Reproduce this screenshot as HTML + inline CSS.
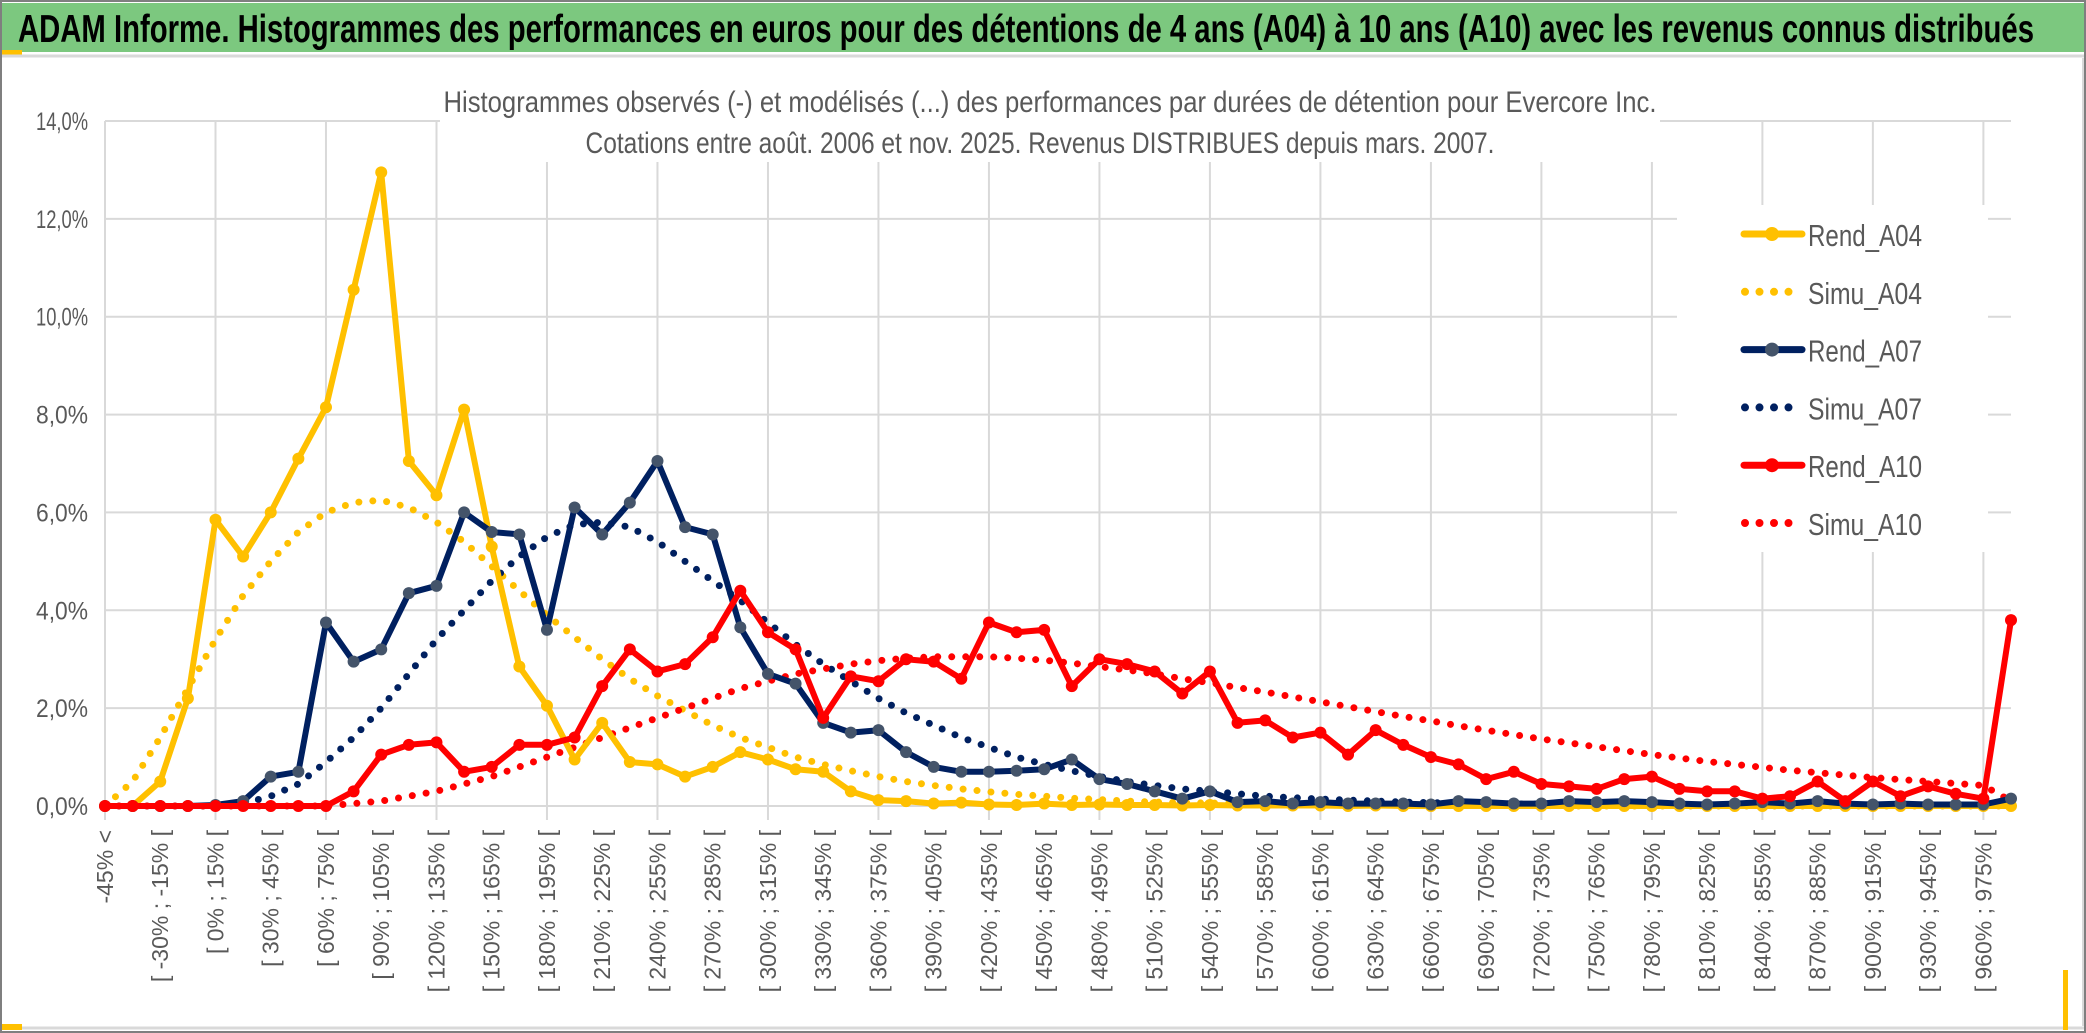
<!DOCTYPE html>
<html><head><meta charset="utf-8"><style>
html,body{margin:0;padding:0;background:#fff;}
svg{display:block;font-family:"Liberation Sans",sans-serif;}
</style></head><body>
<svg id="chart" width="2086" height="1033" viewBox="0 0 2086 1033" xmlns="http://www.w3.org/2000/svg">
<rect x="0" y="0" width="2086" height="1033" fill="#fff"/>
<rect x="1" y="1" width="2084" height="1031" fill="none" stroke="#7f7f7f" stroke-width="2"/>
<rect x="2" y="3" width="2082" height="49" fill="#7cc87f"/>
<rect x="2" y="50" width="20" height="5" fill="#ffc000"/>
<line x1="2" y1="56" x2="2084" y2="56" stroke="#d9d9d9" stroke-width="3"/>
<text x="18" y="42" font-size="39" font-weight="bold" fill="#000" textLength="2016" lengthAdjust="spacingAndGlyphs">ADAM Informe. Histogrammes des performances en euros pour des détentions de 4 ans (A04) à 10 ans (A10) avec les revenus connus distribués</text>
<line x1="2" y1="1028" x2="2084" y2="1028" stroke="#d9d9d9" stroke-width="3"/>
<rect x="2" y="1024" width="20" height="6" fill="#ffc000"/>
<rect x="2063" y="970" width="5" height="60" fill="#ffc000"/>
<line x1="2083" y1="58" x2="2083" y2="1026" stroke="#d9d9d9" stroke-width="2"/>
<g id="grid"></g>
<rect x="1677" y="205" width="311" height="347" fill="#fff"/>
<rect x="440" y="82" width="1220" height="80" fill="#fff"/>
<text x="1050" y="112" font-size="30" fill="#595959" text-anchor="middle" textLength="1213" lengthAdjust="spacingAndGlyphs">Histogrammes observés (-) et modélisés (...) des performances par durées de détention pour Evercore Inc.</text>
<text x="1040" y="153" font-size="30" fill="#595959" text-anchor="middle" textLength="909" lengthAdjust="spacingAndGlyphs">Cotations entre août. 2006 et nov. 2025. Revenus DISTRIBUES depuis mars. 2007.</text>
<g id="yaxis"></g>
<g id="xaxis"></g>
<g id="series"></g>
<g id="legend"></g>
</svg>
<script>
const NS="http://www.w3.org/2000/svg";
const yTicks=[0,2,4,6,8,10,12,14];
const yTickLabels=["0,0%","2,0%","4,0%","6,0%","8,0%","10,0%","12,0%","14,0%"];
const nCats=70;
const catLabels=[];
for(let k=0;k<nCats;k++){
  if(k===0) catLabels.push("-45% <");
  else if(k%2===0){const a=-45+15*(k-1);catLabels.push("[ "+a+"% ; "+(a+15)+"% [");}
  else catLabels.push("");
}
const rendA04=[0,0,0.5,2.2,5.85,5.1,6.0,7.1,8.15,10.55,12.95,7.05,6.35,8.1,5.3,2.85,2.05,0.95,1.7,0.9,0.85,0.6,0.8,1.1,0.95,0.75,0.7,0.3,0.12,0.1,0.05,0.07,0.03,0.02,0.05,0.02,0.03,0.02,0.02,0.01,0.02,0.01,0.01,0.01,0.01,0,0.01,0,0,0,0,0,0,0,0,0,0,0,0,0,0,0,0,0,0,0,0,0,0,0];
const simuA04=[0,0.5,1.4,2.4,3.4,4.3,5.0,5.6,6.0,6.2,6.25,6.1,5.8,5.4,4.9,4.4,3.9,3.45,3.0,2.6,2.25,1.95,1.65,1.4,1.2,1.0,0.85,0.72,0.6,0.5,0.42,0.35,0.29,0.24,0.2,0.16,0.13,0.1,0.08,0.07,0.06,0.05,0.04,0.03,0.03,0.02,0.02,0.02,0.01,0.01,0.01,0.01,0.01,0,0,0,0,0,0,0,0,0,0,0,0,0,0,0,0,0];
const rendA07=[0,0,0,0,0.02,0.1,0.6,0.7,3.75,2.95,3.2,4.35,4.5,6.0,5.6,5.55,3.6,6.1,5.55,6.2,7.05,5.7,5.55,3.65,2.7,2.5,1.7,1.5,1.55,1.1,0.8,0.7,0.7,0.72,0.75,0.95,0.55,0.45,0.3,0.15,0.3,0.08,0.1,0.05,0.08,0.05,0.05,0.05,0.03,0.1,0.08,0.05,0.05,0.1,0.08,0.1,0.08,0.05,0.03,0.05,0.08,0.05,0.1,0.05,0.03,0.05,0.03,0.03,0.03,0.15];
const simuA07=[0,0,0,0,0,0.05,0.2,0.45,0.9,1.4,2.0,2.7,3.4,4.0,4.6,5.1,5.5,5.75,5.8,5.7,5.4,5.0,4.6,4.2,3.75,3.3,2.9,2.55,2.2,1.9,1.65,1.4,1.2,1.0,0.85,0.72,0.6,0.5,0.42,0.35,0.3,0.25,0.2,0.17,0.14,0.12,0.1,0.08,0.07,0.06,0.05,0.04,0.04,0.03,0.03,0.02,0.02,0.02,0.02,0.01,0.01,0.01,0.01,0.01,0.01,0.01,0.01,0.01,0.01,0.01];
const rendA10=[0,0,0,0,0,0,0,0,0,0.3,1.05,1.25,1.3,0.7,0.8,1.25,1.25,1.4,2.45,3.2,2.75,2.9,3.45,4.4,3.55,3.2,1.8,2.65,2.55,3.0,2.95,2.6,3.75,3.55,3.6,2.45,3.0,2.9,2.75,2.3,2.75,1.7,1.75,1.4,1.5,1.05,1.55,1.25,1.0,0.85,0.55,0.7,0.45,0.4,0.35,0.55,0.6,0.35,0.3,0.3,0.15,0.2,0.5,0.1,0.5,0.2,0.4,0.25,0.15,3.8];
const simuA10=[0,0,0,0,0,0,0,0,0,0.05,0.1,0.2,0.3,0.45,0.6,0.8,1.0,1.2,1.4,1.6,1.8,2.0,2.2,2.4,2.55,2.7,2.8,2.9,2.97,3.02,3.05,3.05,3.05,3.02,2.98,2.92,2.85,2.78,2.7,2.6,2.52,2.42,2.33,2.23,2.13,2.03,1.93,1.83,1.74,1.64,1.55,1.46,1.37,1.29,1.21,1.13,1.05,0.98,0.91,0.85,0.79,0.73,0.68,0.63,0.58,0.54,0.5,0.46,0.42,0.1];

const X0=105,X1=2011,Y0=806,Y14=121;
const xs=k=>X0+(X1-X0)*k/(nCats-1);
const ys=v=>Y0-(Y0-Y14)*v/14;
function mk(tag,attrs,parent){const e=document.createElementNS(NS,tag);for(const a in attrs)e.setAttribute(a,attrs[a]);parent.appendChild(e);return e;}
const grid=document.getElementById('grid');
yTicks.forEach(v=>{
  const l=mk('line',{x1:X0,x2:X1,y1:ys(v),y2:ys(v),stroke:'#d9d9d9','stroke-width':2},grid);
  
  
});
for(let k=0;k<nCats;k+=4){
  const l=mk('line',{x1:xs(k),x2:xs(k),y1:Y14,y2:Y0+14,stroke:'#d9d9d9','stroke-width':2},grid);
  
  
}
const ya=document.getElementById('yaxis');
yTicks.forEach((v,i)=>{
  const t=mk('text',{x:88,y:ys(v)+9,'font-size':25,fill:'#595959','text-anchor':'end',textLength:52,lengthAdjust:'spacingAndGlyphs'},ya);
  t.textContent=yTickLabels[i];
  
  
});
const xa=document.getElementById('xaxis');
catLabels.forEach((s,k)=>{
  if(!s)return;
  const x=xs(k)+8,y=830;
  const t=mk('text',{x:x,y:y,'font-size':23,fill:'#595959','text-anchor':'end',transform:`rotate(-90 ${x} ${y})`},xa);
  t.textContent=s;
  
  
});
const sg=document.getElementById('series');
function pts(arr){return arr.map((v,k)=>xs(k).toFixed(1)+','+ys(v).toFixed(1)).join(' ');}
function dotted(arr,color,name){
  const p=mk('polyline',{points:pts(arr),fill:'none',stroke:color,'stroke-width':7,'stroke-linecap':'round','stroke-dasharray':'0 14'},sg);
  
  
}
function solid(arr,color,mcolor,name){
  const g=mk('g',{},sg);
  
  
  mk('polyline',{points:pts(arr),fill:'none',stroke:color,'stroke-width':6,'stroke-linejoin':'round'},g);
  arr.forEach((v,k)=>{
    const c=mk('circle',{cx:xs(k),cy:ys(v),r:6,fill:mcolor},g);
    
    
  });
}
dotted(simuA04,'#ffc000','simu-a04-line');
dotted(simuA07,'#002060','simu-a07-line');
dotted(simuA10,'#ff0000','simu-a10-line');
solid(rendA04,'#ffc000','#ffc000','rend-a04-line');
solid(rendA07,'#002060','#44546a','rend-a07-line');
solid(rendA10,'#ff0000','#ff0000','rend-a10-line');
const lg=document.getElementById('legend');
const leg=[["Rend_A04",'#ffc000','#ffc000',false],["Simu_A04",'#ffc000',null,true],["Rend_A07",'#002060','#44546a',false],["Simu_A07",'#002060',null,true],["Rend_A10",'#ff0000','#ff0000',false],["Simu_A10",'#ff0000',null,true]];
leg.forEach((d,i)=>{
  const y=234+i*57.8;
  const g=mk('g',{},lg);
  
  
  if(d[3]){mk('line',{x1:1745,x2:1790,y1:y,y2:y,stroke:d[1],'stroke-width':8,'stroke-linecap':'round','stroke-dasharray':'0 14.5'},g);}
  else{mk('line',{x1:1744,x2:1802,y1:y,y2:y,stroke:d[1],'stroke-width':7,'stroke-linecap':'round'},g);mk('circle',{cx:1772,cy:y,r:7,fill:d[2]},g);}
  const t=mk('text',{x:1808,y:y+12,'font-size':31,fill:'#595959',textLength:114,lengthAdjust:'spacingAndGlyphs'},g);
  t.textContent=d[0];
});
</script>
</body></html>
